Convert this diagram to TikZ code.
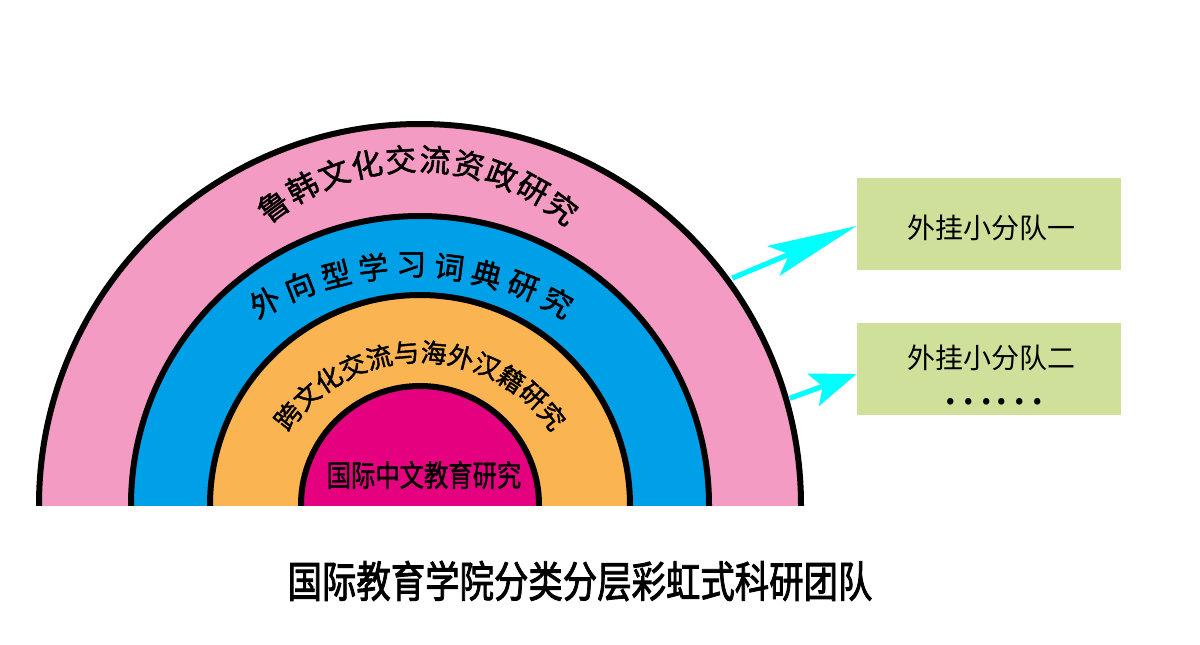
\documentclass[tikz,border=0pt]{standalone}
\usepackage{fontspec}
\newfontfamily\cjk{Noto Sans CJK SC}
\newfontfamily\cjkm[FakeBold=1.6]{Noto Sans CJK SC}
\newfontfamily\cjkt[FakeBold=2.2]{Noto Sans CJK SC}
\usetikzlibrary{arrows.meta,calc}
\definecolor{pinkc}{RGB}{243,155,194}
\definecolor{bluec}{RGB}{0,160,233}
\definecolor{orangec}{RGB}{250,180,82}
\definecolor{magc}{RGB}{228,0,127}
\definecolor{greenc}{RGB}{206,224,153}
\definecolor{cyanc}{RGB}{0,255,255}
\tikzset{
  ring/.style={draw=black,line width=3pt},
  arclabel/.style={font=\cjkm\fontsize{#1}{#1}\selectfont,inner sep=-2.5pt,anchor=center},
  box/.style={fill=greenc,draw=none,minimum width=132pt,minimum height=46pt,inner sep=0pt},
  boxtext/.style={font=\cjk\fontsize{14}{14}\selectfont,inner sep=0pt},
  arr/.style={draw=cyanc,line width=2.6pt}
}
\begin{document}
\begin{tikzpicture}[x=0.5pt,y=0.5pt]
\useasboundingbox (0,0) rectangle (1200,644);
\fill[white] (0,0) rectangle (1200,644);
\coordinate (C) at (420,139);
\begin{scope}
  \clip (0,139) rectangle (1200,644);
  \fill[pinkc] (C) circle[radius=190.5pt];
  \draw[ring] (C) circle[radius=190.5pt];
  \fill[bluec] (C) circle[radius=144.5pt];
  \draw[ring] (C) circle[radius=144.5pt];
  \fill[orangec] (C) circle[radius=105pt];
  \draw[ring] (C) circle[radius=105pt];
  \fill[magc] (C) circle[radius=59.5pt];
  \draw[ring] (C) circle[radius=59.5pt];
\end{scope}
% curved labels
\coordinate (PC) at (416,244);
\foreach \ch [count=\i from 0] in {鲁,韩,文,化,交,流,资,政,研,究}{
  \pgfmathsetmacro\ang{126.3-\i*(126.3-52.8)/9}
  \node[arclabel=15.5,rotate=\ang-90] (pk\i) at ($(PC)+(\ang:120.5pt)$) {\ch};
}
\coordinate (BC) at (411,72);
\foreach \ch [count=\i from 0] in {外,向,型,学,习,词,典,研,究}{
  \pgfmathsetmacro\ang{118.4-\i*(118.4-61.5)/8}
  \node[arclabel=15,rotate=\ang-90] (bl\i) at ($(BC)+(\ang:153.5pt)$) {\ch};
}
\coordinate (OC) at (420,124);
\foreach \ch [count=\i from 0] in {跨,文,化,交,流,与,海,外,汉,籍,研,究}{
  \pgfmathsetmacro\ang{141.8-\i*(141.8-38.2)/11}
  \node[arclabel=13,rotate=\ang-90] (or\i) at ($(OC)+(\ang:84pt)$) {\ch};
}
\node[font=\cjkm\fontsize{15}{15}\selectfont,xscale=0.81,inner sep=0pt] (core) at (424,169) {国际中文教育研究};
% boxes
\node[box] (box1) at (989,420) {};
\node[boxtext] (t1) at (991,416) {外挂小分队一};
\node[box] (box2) at (989,275) {};
\node[boxtext] (t2) at (991,286) {外挂小分队二};
\node[font=\cjk\fontsize{24}{24}\selectfont,inner sep=0pt,text height=11pt,text depth=-7pt] (dots) at (993,251) {……};
% arrows
\coordinate (s1) at ($(C)+(36:193pt)$);
\coordinate (s2) at ($(C)+(16.1:192.5pt)$);
\draw[arr,-{Stealth[length=45pt,width=16pt,inset=8.5pt]}] (s1) -- ([yshift=-1pt]box1.west);
\draw[arr,-{Stealth[length=23pt,width=17pt,inset=5pt]}] (s2) -- ([yshift=-2.5pt]box2.west);
% title
\node[font=\cjkt\fontsize{17.2}{17.2}\selectfont,yscale=1.25,inner sep=0pt] (title) at (580,63) {国际教育学院分类分层彩虹式科研团队};
\end{tikzpicture}
\end{document}
